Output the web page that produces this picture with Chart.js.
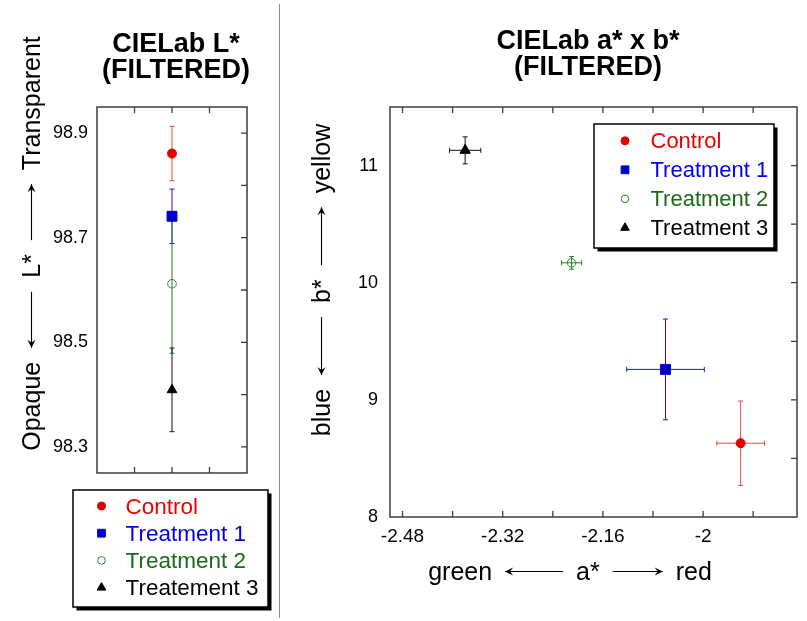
<!DOCTYPE html>
<html>
<head>
<meta charset="utf-8">
<script src="https://cdn.jsdelivr.net/npm/chart.js@4.4.1/dist/chart.umd.min.js"></script>
<style>
  html, body { margin: 0; padding: 0; background: #fff; }
  body { width: 807px; height: 621px; position: relative; overflow: hidden; }
  #lChart { position: absolute; left: 0; top: 0; }
  #abChart { position: absolute; left: 280px; top: 0; }
  #divider { position: absolute; left: 278.5px; top: 4px; width: 1.5px; height: 614px; background: #8a8a8a; }
</style>
</head>
<body>
<canvas id="lChart" width="279" height="621"></canvas>
<canvas id="abChart" width="527" height="621"></canvas>
<div id="divider"></div>
<script>
// Values
const groups = ['Control', 'Treatment 1', 'Treatment 2', 'Treatment 3'];
const lLegendNames = ['Control', 'Treatment 1', 'Treatment 2', 'Treatement 3'];
const lValues = [98.861, 98.741, 98.612, 98.409];
const lErrors = [0.052, 0.052, 0.133, 0.080];
const aValues = [-1.940, -2.060, -2.210, -2.380];
const aErrors = [0.038, 0.062, 0.016, 0.025];
const bValues = [8.63, 9.26, 10.17, 11.13];
const bErrors = [0.36, 0.43, 0.054, 0.115];

// Tick positions and labels
const lTicks = [98.3, 98.4, 98.5, 98.6, 98.7, 98.8, 98.9];
const lTickLabels = ['98.3', '', '98.5', '', '98.7', '', '98.9'];
const lPosTicks = [1, 2, 3];
const aTicks = [-2.48, -2.40, -2.32, -2.24, -2.16, -2.08, -2.00, -1.92];
const aTickLabels = ['-2.48', '', '-2.32', '', '-2.16', '', '-2', ''];
const bTicks = [8, 8.5, 9, 9.5, 10, 10.5, 11];
const bTickLabels = ['8', '', '9', '', '10', '', '11'];

// Styles
const FONT = "'Liberation Sans', Arial, Helvetica, sans-serif";
const markerColors = ['#e00000', '#0000cc', '#2a8a2a', '#000000'];
const barColors = ['rgba(228,40,40,0.85)', '#1818dd', '#2a7a2a', '#111111'];
const textColors = ['#ee0000', '#0000ee', '#1a6a1a', '#000000'];
const pointStyles = ['circle', 'rect', 'circle', 'triangle'];
const filled = [true, true, false, true];

function drawArrow(ctx, x1, x2, y, towardStart) {
  ctx.beginPath();
  ctx.moveTo(x1, y);
  ctx.lineTo(x2, y);
  ctx.stroke();
  const tip = towardStart ? x1 : x2;
  const d = towardStart ? 1 : -1;
  ctx.beginPath();
  ctx.moveTo(tip, y);
  ctx.lineTo(tip + d * 8, y - 4);
  ctx.lineTo(tip + d * 5, y);
  ctx.lineTo(tip + d * 8, y + 4);
  ctx.closePath();
  ctx.fill();
}

// words and arrows laid out along the local x axis, centred on 0
function arrowTitle(ctx, parts, gap, size) {
  ctx.font = size + 'px ' + FONT;
  ctx.fillStyle = '#000';
  ctx.strokeStyle = '#000';
  ctx.lineWidth = 1.1;
  ctx.textAlign = 'left';
  ctx.textBaseline = 'alphabetic';
  const lens = parts.map(p => typeof p === 'string' ? ctx.measureText(p).width : Math.abs(p));
  const total = lens.reduce((s, v) => s + v, 0) + gap * (parts.length - 1);
  let x = -total / 2;
  parts.forEach((p, i) => {
    if (typeof p === 'string') ctx.fillText(p, x, 0);
    else drawArrow(ctx, x, x + lens[i], -size * 0.34, p < 0);
    x += lens[i] + gap;
  });
}

function makeDecor(cfg) {
  return {
    id: 'decor',
    beforeDatasetsDraw(chart) {
      const ctx = chart.ctx, xs = chart.scales.x, ys = chart.scales.y;
      ctx.save();
      ctx.lineWidth = 1;
      cfg.xVals.forEach((xv, i) => {
        const px = xs.getPixelForValue(xv), py = ys.getPixelForValue(cfg.yVals[i]);
        ctx.strokeStyle = barColors[i];
        ctx.beginPath();
        const y1 = ys.getPixelForValue(cfg.yVals[i] + cfg.yErr[i]);
        const y2 = ys.getPixelForValue(cfg.yVals[i] - cfg.yErr[i]);
        ctx.moveTo(px, y1); ctx.lineTo(px, y2);
        ctx.moveTo(px - 2.5, y1); ctx.lineTo(px + 2.5, y1);
        ctx.moveTo(px - 2.5, y2); ctx.lineTo(px + 2.5, y2);
        if (cfg.xErr) {
          const x1 = xs.getPixelForValue(xv - cfg.xErr[i]);
          const x2 = xs.getPixelForValue(xv + cfg.xErr[i]);
          ctx.moveTo(x1, py); ctx.lineTo(x2, py);
          ctx.moveTo(x1, py - 2.5); ctx.lineTo(x1, py + 2.5);
          ctx.moveTo(x2, py - 2.5); ctx.lineTo(x2, py + 2.5);
        }
        ctx.stroke();
      });
      ctx.restore();
    },
    afterDraw(chart) {
      const ctx = chart.ctx, ca = chart.chartArea;
      const xs = chart.scales.x, ys = chart.scales.y;
      ctx.save();
      // frame with inward ticks on top, bottom and right
      ctx.strokeStyle = '#3c3c3c';
      ctx.lineWidth = 1.5;
      ctx.strokeRect(ca.left, ca.top, ca.right - ca.left, ca.bottom - ca.top);
      ctx.lineWidth = 1.3;
      ctx.beginPath();
      xs.ticks.forEach(t => {
        const p = xs.getPixelForValue(t.value);
        if (p <= ca.left + 1 || p >= ca.right - 1) return;
        ctx.moveTo(p, ca.top); ctx.lineTo(p, ca.top + 6);
        ctx.moveTo(p, ca.bottom); ctx.lineTo(p, ca.bottom - 6);
      });
      ys.ticks.forEach(t => {
        const p = ys.getPixelForValue(t.value);
        if (p <= ca.top + 1 || p >= ca.bottom - 1) return;
        ctx.moveTo(ca.right, p); ctx.lineTo(ca.right - 6, p);
      });
      ctx.stroke();

      // two line bold title
      ctx.fillStyle = '#000';
      ctx.font = 'bold 27px ' + FONT;
      ctx.textAlign = 'center';
      ctx.textBaseline = 'alphabetic';
      cfg.title.forEach((line, i) => ctx.fillText(line, cfg.titleX, cfg.titleY + i * 26));

      // axis titles with arrows
      if (cfg.yTitle) {
        ctx.save();
        ctx.translate(cfg.yTitle.x, cfg.yTitle.y);
        ctx.rotate(-Math.PI / 2);
        arrowTitle(ctx, cfg.yTitle.parts, cfg.yTitle.gap, cfg.yTitle.size);
        ctx.restore();
      }
      if (cfg.xTitle) {
        ctx.save();
        ctx.translate(cfg.xTitle.x, cfg.xTitle.y);
        arrowTitle(ctx, cfg.xTitle.parts, cfg.xTitle.gap, cfg.xTitle.size);
        ctx.restore();
      }

      // boxed legend with a hard shadow
      const lg = cfg.legend;
      ctx.fillStyle = '#000';
      ctx.fillRect(lg.x + 3.5, lg.y + 3.5, lg.w, lg.h);
      ctx.fillStyle = '#fff';
      ctx.fillRect(lg.x, lg.y, lg.w, lg.h);
      ctx.strokeStyle = '#000';
      ctx.lineWidth = 1.5;
      ctx.strokeRect(lg.x, lg.y, lg.w, lg.h);
      ctx.font = lg.size + 'px ' + FONT;
      ctx.textAlign = 'left';
      lg.names.forEach((name, i) => {
        const base = lg.y + lg.first + i * lg.step;
        ctx.fillStyle = filled[i] ? markerColors[i] : 'rgba(0,0,0,0)';
        ctx.strokeStyle = markerColors[i];
        ctx.lineWidth = 1;
        Chart.helpers.drawPoint(ctx, {
          pointStyle: pointStyles[i], rotation: 0, borderWidth: 1,
          radius: [4, 5.5, 3.8, 5][i]
        }, lg.x + lg.markX, base - 7.5);
        ctx.fillStyle = textColors[i];
        ctx.fillText(name, lg.x + lg.textX, base);
      });
      ctx.restore();
    }
  };
}

function fixedTicks(values) {
  return scale => { scale.ticks = values.map(v => ({ value: v })); };
}

function datasets(xVals, yVals, radii) {
  return groups.map((g, i) => ({
    label: g,
    data: [{ x: xVals[i], y: yVals[i] }],
    pointStyle: pointStyles[i],
    pointRadius: radii[i],
    pointHoverRadius: radii[i],
    backgroundColor: filled[i] ? markerColors[i] : 'rgba(0,0,0,0)',
    borderColor: markerColors[i],
    borderWidth: 1,
    showLine: false
  }));
}

const tickFont = { family: FONT, size: 18 };
const lPositions = groups.map(() => 2);

// Left panel: L*
new Chart(document.getElementById('lChart'), {
  type: 'scatter',
  data: { datasets: datasets(lPositions, lValues, [4.5, 7, 4.3, 5.6]) },
  options: {
    responsive: false,
    animation: false,
    layout: { padding: { left: 0, top: 107, right: 32, bottom: 148 } },
    plugins: { legend: { display: false }, tooltip: { enabled: false } },
    scales: {
      x: {
        type: 'linear', min: 0, max: 4,
        afterBuildTicks: fixedTicks(lPosTicks),
        afterFit: s => { s.height = 0; },
        ticks: { display: false },
        grid: { display: false, drawTicks: false },
        border: { display: false }
      },
      y: {
        type: 'linear', min: 98.25, max: 98.95,
        afterBuildTicks: fixedTicks(lTicks),
        afterFit: s => { s.width = 97; },
        ticks: { autoSkip: false, font: tickFont, color: '#000', padding: 9,
                 callback: (v, i) => lTickLabels[i] },
        grid: { display: false, drawTicks: false },
        border: { display: false }
      }
    }
  },
  plugins: [makeDecor({
    xVals: lPositions, yVals: lValues, yErr: lErrors,
    title: ['CIELab L*', '(FILTERED)'], titleX: 176, titleY: 52,
    yTitle: { x: 40, y: 243.5, parts: ['Opaque', -56, 'L*', 56, 'Transparent'], gap: 14, size: 25 },
    legend: { x: 73, y: 490, w: 195, h: 117, first: 23.5, step: 27.2, markX: 28.5, textX: 52.5, size: 22.5, names: lLegendNames }
  })]
});

// Right panel: a* x b*
new Chart(document.getElementById('abChart'), {
  type: 'scatter',
  data: { datasets: datasets(aValues, bValues, [4.5, 7, 4.3, 6]) },
  options: {
    responsive: false,
    animation: false,
    layout: { padding: { left: 0, top: 107, right: 10, bottom: 0 } },
    plugins: { legend: { display: false }, tooltip: { enabled: false } },
    scales: {
      x: {
        type: 'linear', min: -2.5, max: -1.85,
        afterBuildTicks: fixedTicks(aTicks),
        afterFit: s => { s.height = 104; },
        ticks: { autoSkip: false, maxRotation: 0, font: { family: FONT, size: 19 }, color: '#000', padding: 8,
                 callback: (v, i) => aTickLabels[i] },
        grid: { display: false, drawTicks: false },
        border: { display: false }
      },
      y: {
        type: 'linear', min: 8, max: 11.5,
        afterBuildTicks: fixedTicks(bTicks),
        afterFit: s => { s.width = 110; },
        ticks: { autoSkip: false, font: tickFont, color: '#000', padding: 12,
                 callback: (v, i) => bTickLabels[i] },
        grid: { display: false, drawTicks: false },
        border: { display: false }
      }
    }
  },
  plugins: [makeDecor({
    xVals: aValues, yVals: bValues, xErr: aErrors, yErr: bErrors,
    title: ['CIELab a* x b*', '(FILTERED)'], titleX: 308, titleY: 49,
    yTitle: { x: 50, y: 280, parts: ['blue', -58, 'b*', 58, 'yellow'], gap: 14, size: 25 },
    xTitle: { x: 290, y: 580, parts: ['green', -58, 'a*', 50, 'red'], gap: 13, size: 25 },
    legend: { x: 314, y: 124, w: 180, h: 124, first: 24.3, step: 29, markX: 31, textX: 56.5, size: 22, names: groups }
  })]
});
</script>
</body>
</html>
